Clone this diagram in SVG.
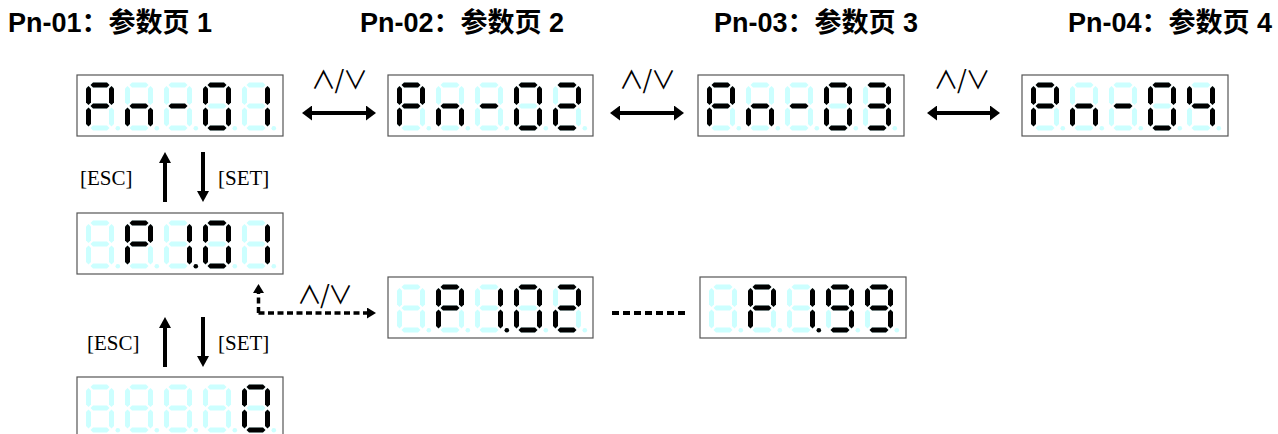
<svg xmlns="http://www.w3.org/2000/svg" width="1278" height="434" viewBox="0 0 1278 434">
<style>
.title{font-family:"Liberation Sans","Noto Sans CJK SC",sans-serif;font-weight:bold;font-size:27px;fill:#000}
.key{font-family:"Liberation Serif","Noto Serif CJK SC",serif;font-size:21px;fill:#000}
.ud{font-family:"Noto Sans CJK SC","DejaVu Sans",sans-serif;font-size:25px;fill:#000;text-anchor:middle}
.box{fill:#fff;stroke:#555;stroke-width:1.2}
.thick{stroke:#000;stroke-width:4;fill:none}
.dash{stroke:#000;stroke-width:3.5;fill:none;stroke-dasharray:6 3.5}
.dots{stroke:#000;stroke-width:4;fill:none;stroke-dasharray:7 4}
</style>
<defs>
<polygon id="sa" points="4.5,2.5 7,0 21,0 23.5,2.5 21,5 7,5"/>
<polygon id="sg" points="4.5,23.5 7,21 21,21 23.5,23.5 21,26 7,26"/>
<polygon id="sd" points="4.5,45.5 7,43 21,43 23.5,45.5 21,48 7,48"/>
<polygon id="sf" points="2.5,3.5 5,6 5,20 2.5,22.5 0,20 0,6"/>
<polygon id="sb" points="25.5,3.5 28,6 28,20 25.5,22.5 23,20 23,6"/>
<polygon id="se" points="2.5,25 5,27.5 5,41.5 2.5,44 0,41.5 0,27.5"/>
<polygon id="sc" points="25.5,25 28,27.5 28,41.5 25.5,44 23,41.5 23,27.5"/>
<circle id="sp" cx="31.8" cy="45.8" r="2.3"/>
<g id="c8" fill="#ccffff"><use href="#sa"/><use href="#sb"/><use href="#sc"/><use href="#sd"/><use href="#se"/><use href="#sf"/><use href="#sg"/><use href="#sp"/></g>
<g id="cP"><use href="#c8"/><g fill="#000"><use href="#sa"/><use href="#sb"/><use href="#se"/><use href="#sf"/><use href="#sg"/></g></g>
<g id="cn"><use href="#c8"/><g fill="#000"><use href="#sc"/><use href="#se"/><use href="#sg"/></g></g>
<g id="cm"><use href="#c8"/><g fill="#000"><use href="#sg"/></g></g>
<g id="c0"><use href="#c8"/><g fill="#000"><use href="#sa"/><use href="#sb"/><use href="#sc"/><use href="#sd"/><use href="#se"/><use href="#sf"/></g></g>
<g id="c1"><use href="#c8"/><g fill="#000"><use href="#sb"/><use href="#sc"/></g></g>
<g id="c1p"><use href="#c8"/><g fill="#000"><use href="#sb"/><use href="#sc"/><use href="#sp"/></g></g>
<g id="c2"><use href="#c8"/><g fill="#000"><use href="#sa"/><use href="#sb"/><use href="#sd"/><use href="#se"/><use href="#sg"/></g></g>
<g id="c3"><use href="#c8"/><g fill="#000"><use href="#sa"/><use href="#sb"/><use href="#sc"/><use href="#sd"/><use href="#sg"/></g></g>
<g id="c4"><use href="#c8"/><g fill="#000"><use href="#sb"/><use href="#sc"/><use href="#sf"/><use href="#sg"/></g></g>
<g id="c9"><use href="#c8"/><g fill="#000"><use href="#sa"/><use href="#sb"/><use href="#sc"/><use href="#sd"/><use href="#sf"/><use href="#sg"/></g></g>
<marker id="big" viewBox="0 0 10 15" refX="2" refY="7.5" markerWidth="10" markerHeight="15" markerUnits="userSpaceOnUse" orient="auto-start-reverse"><path d="M0,0 L10,7.5 L0,15 z" fill="#000"/></marker>
<marker id="vert" viewBox="0 0 11 12" refX="2" refY="6" markerWidth="11" markerHeight="12" markerUnits="userSpaceOnUse" orient="auto-start-reverse"><path d="M0,0 L11,6 L0,12 z" fill="#000"/></marker>
<marker id="small" viewBox="0 0 9 11" refX="1" refY="5.5" markerWidth="9" markerHeight="11" markerUnits="userSpaceOnUse" orient="auto"><path d="M0,0 L9,5.5 L0,11 z" fill="#000"/></marker>
</defs>
<rect width="1278" height="434" fill="#fff"/>

<g id="titles">
<text class="title" x="8" y="32">Pn-01：参数页 1</text>
<text class="title" x="360" y="32">Pn-02：参数页 2</text>
<text class="title" x="714" y="32">Pn-03：参数页 3</text>
<text class="title" x="1068" y="32">Pn-04：参数页 4</text>
</g>

<g id="pn01">
<rect class="box" x="77" y="75" width="206" height="61"/>
<use href="#cP" x="86" y="82.5"/><use href="#cn" x="125" y="82.5"/><use href="#cm" x="164" y="82.5"/><use href="#c0" x="203" y="82.5"/><use href="#c1" x="242" y="82.5"/>
</g>
<g id="pn02">
<rect class="box" x="388" y="75" width="205" height="61"/>
<use href="#cP" x="397" y="82.5"/><use href="#cn" x="436" y="82.5"/><use href="#cm" x="475" y="82.5"/><use href="#c0" x="514" y="82.5"/><use href="#c2" x="553" y="82.5"/>
</g>
<g id="pn03">
<rect class="box" x="698" y="75" width="206" height="61"/>
<use href="#cP" x="707" y="82.5"/><use href="#cn" x="746" y="82.5"/><use href="#cm" x="785" y="82.5"/><use href="#c0" x="824" y="82.5"/><use href="#c3" x="863" y="82.5"/>
</g>
<g id="pn04">
<rect class="box" x="1022" y="75" width="206" height="61"/>
<use href="#cP" x="1031" y="82.5"/><use href="#cn" x="1070" y="82.5"/><use href="#cm" x="1109" y="82.5"/><use href="#c0" x="1148" y="82.5"/><use href="#c4" x="1187" y="82.5"/>
</g>
<g id="p101">
<rect class="box" x="77" y="213" width="206" height="61"/>
<use href="#c8" x="86" y="220.5"/><use href="#cP" x="125" y="220.5"/><use href="#c1p" x="164" y="220.5"/><use href="#c0" x="203" y="220.5"/><use href="#c1" x="242" y="220.5"/>
</g>
<g id="p102">
<rect class="box" x="388" y="277" width="205" height="61"/>
<use href="#c8" x="397" y="284.5"/><use href="#cP" x="436" y="284.5"/><use href="#c1p" x="475" y="284.5"/><use href="#c0" x="514" y="284.5"/><use href="#c2" x="553" y="284.5"/>
</g>
<g id="p199">
<rect class="box" x="700" y="277" width="206" height="61"/>
<use href="#c8" x="709" y="284.5"/><use href="#cP" x="748" y="284.5"/><use href="#c1p" x="787" y="284.5"/><use href="#c9" x="826" y="284.5"/><use href="#c9" x="865" y="284.5"/>
</g>
<g id="value">
<rect class="box" x="77" y="377" width="206" height="61"/>
<use href="#c8" x="86" y="384.5"/><use href="#c8" x="125" y="384.5"/><use href="#c8" x="164" y="384.5"/><use href="#c8" x="203" y="384.5"/><use href="#c0" x="242" y="384.5"/>
</g>

<g id="connectors">
<line class="thick" x1="310" y1="113" x2="368" y2="113" marker-start="url(#big)" marker-end="url(#big)"/>
<line class="thick" x1="618" y1="113" x2="676" y2="113" marker-start="url(#big)" marker-end="url(#big)"/>
<line class="thick" x1="935" y1="113" x2="992" y2="113" marker-start="url(#big)" marker-end="url(#big)"/>
<text class="ud" x="323.5 339.5 355.5" y="89">∧/∨</text>
<text class="ud" x="631.5 647.5 663.5" y="89">∧/∨</text>
<text class="ud" x="946 962 978" y="89">∧/∨</text>
<line class="thick" x1="165" y1="202" x2="165" y2="161" marker-end="url(#vert)"/>
<line class="thick" x1="203" y1="152" x2="203" y2="193" marker-end="url(#vert)"/>
<text class="key" x="80" y="185">[ESC]</text>
<text class="key" x="218" y="185">[SET]</text>
<line class="thick" x1="165" y1="367" x2="165" y2="326" marker-end="url(#vert)"/>
<line class="thick" x1="203" y1="317" x2="203" y2="358" marker-end="url(#vert)"/>
<text class="key" x="87" y="350">[ESC]</text>
<text class="key" x="218" y="350">[SET]</text>
<path class="dash" d="M258.5,313 H368" marker-end="url(#small)"/>
<path class="dash" d="M258.5,313 V292" marker-end="url(#small)"/>
<text class="ud" x="309.5 325 340.5" y="304">∧/∨</text>
<line class="dots" x1="612" y1="313" x2="685" y2="313"/>
</g>
</svg>
